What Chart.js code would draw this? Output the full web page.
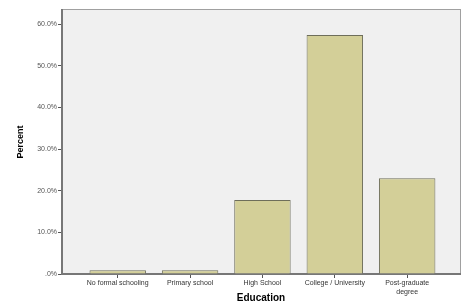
<!DOCTYPE html>
<html lang="en">
<head>
    <meta charset="UTF-8">
    <title>Education</title>
    <script src="https://cdn.jsdelivr.net/npm/chart.js@4.4.1/dist/chart.umd.min.js"></script>
    <style>
        body { margin: 0; background: #fff; }
    </style>
</head>
<body>
<canvas id="myChart" width="462" height="308"></canvas>
<script>
    const categories = ['No formal schooling', 'Primary school', 'High School', 'College / University', ['Post-graduate', 'degree']];
    const percents = [0.9, 0.9, 17.8, 57.4, 23.0];
    const yTicks = [0, 10, 20, 30, 40, 50, 60];

    // plot frame + grey background like the SPSS output
    const frame = {
        id: 'frame',
        beforeDraw(chart) {
            const a = chart.chartArea, ctx = chart.ctx;
            ctx.save();
            ctx.fillStyle = '#f0f0f0';
            ctx.fillRect(a.left, a.top, a.right - a.left, a.bottom - a.top);
            ctx.strokeStyle = '#a0a0a0';
            ctx.lineWidth = 1;
            ctx.strokeRect(a.left + 0.5, a.top - 0.5, a.right - a.left, a.bottom - a.top);
            ctx.restore();
        }
    };

    new Chart(document.getElementById('myChart'), {
        type: 'bar',
        data: {
            datasets: [{
                data: percents.map((v, i) => ({x: i, y: v})),
                backgroundColor: 'rgb(211, 207, 152)',
                borderColor: 'rgb(110, 110, 90)',
                borderWidth: 1,
                barPercentage: 0.78,
                categoryPercentage: 1
            }]
        },
        plugins: [frame],
        options: {
            responsive: false,
            animation: false,
            layout: {padding: {top: 10, right: 2, left: 15}},
            plugins: {legend: {display: false}, tooltip: {enabled: false}},
            scales: {
                x: {
                    type: 'linear',
                    offset: false,
                    min: -0.77,
                    max: 4.73,
                    ticks: {
                        stepSize: 1,
                        autoSkip: false,
                        maxRotation: 0,
                        padding: 1,
                        color: '#333',
                        font: {family: 'Liberation Sans', size: 7},
                        callback: v => categories[v]
                    },
                    afterBuildTicks: s => { s.ticks = s.ticks.filter(t => Number.isInteger(t.value) && t.value >= 0 && t.value < categories.length); },
                    grid: {offset: false, drawOnChartArea: false, tickLength: 4, color: '#555'},
                    border: {color: '#777', width: 2},
                    title: {display: true, text: 'Education', color: '#000',
                        font: {family: 'Liberation Sans', size: 10, weight: 'bold'}, padding: {top: 9}},
                    afterFit: s => { s.height = 34; }
                },
                y: {
                    min: 0,
                    max: 63.4,
                    ticks: {
                        stepSize: 10,
                        padding: 1,
                        color: '#555',
                        font: {family: 'Liberation Sans', size: 7},
                        callback: v => v === 0 ? '.0%' : v.toFixed(1) + '%'
                    },
                    afterBuildTicks: s => { s.ticks = yTicks.map(v => ({value: v})); },
                    grid: {drawOnChartArea: false, tickLength: 4, color: '#555'},
                    border: {color: '#777', width: 2},
                    title: {display: true, text: 'Percent', color: '#000',
                        font: {family: 'Liberation Sans', size: 9, weight: 'bold'}, padding: 0},
                    afterFit: s => { s.width = 47; }
                }
            }
        }
    });
</script>
</body>
</html>
